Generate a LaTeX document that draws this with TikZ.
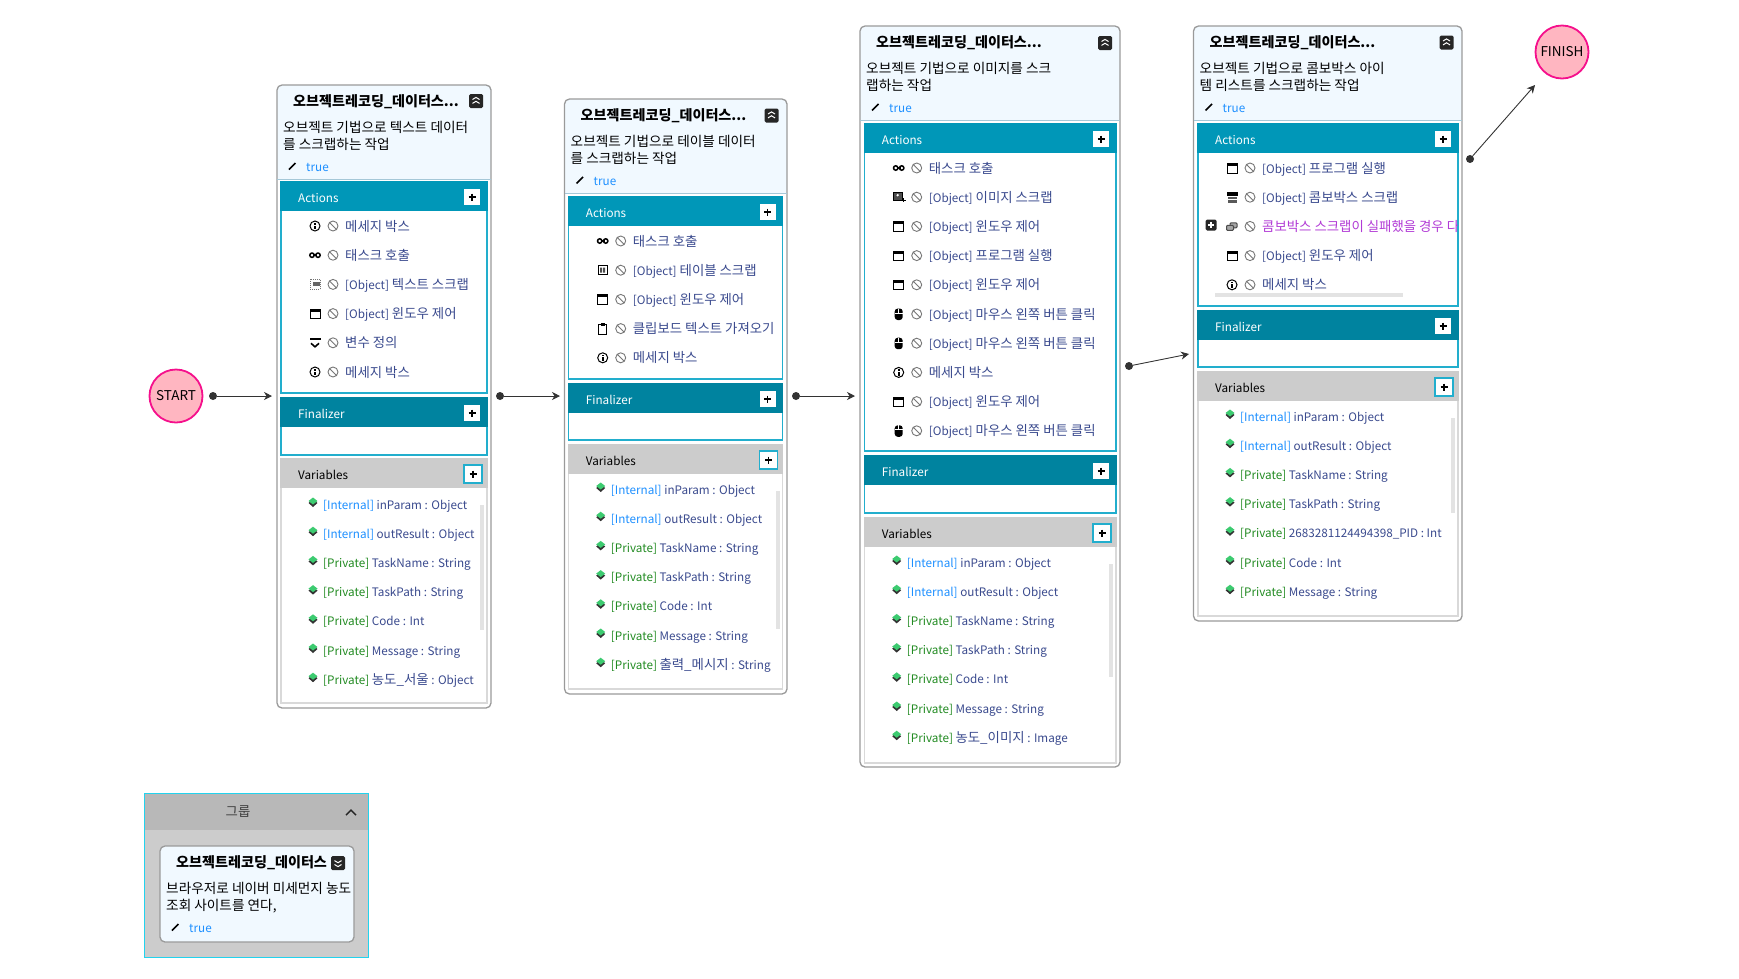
\documentclass[tikz,border=0pt]{standalone}
\usepackage{fontspec}
\setmainfont{Noto Sans CJK KR}
\usetikzlibrary{arrows.meta}
\definecolor{acthead}{HTML}{0097B8}
\definecolor{finhead}{HTML}{00839F}
\definecolor{panelline}{HTML}{22AECD}
\definecolor{varhead}{HTML}{CCCCCC}
\definecolor{cardline}{HTML}{9A9A9A}
\definecolor{cardfill}{HTML}{F1F9FF}
\definecolor{sepline}{HTML}{A5C8D8}
\definecolor{rowtext}{HTML}{3A4A8E}
\definecolor{colInternal}{HTML}{1E90FF}
\definecolor{colPrivate}{HTML}{228B22}
\definecolor{grptext}{HTML}{B23BD6}
\definecolor{banline}{HTML}{777777}
\definecolor{pinkfill}{HTML}{FFB6C1}
\definecolor{pinkline}{HTML}{F5108C}
\definecolor{grphead}{HTML}{B8B8B8}
\definecolor{grpline}{HTML}{22D3EE}
\definecolor{gemgreen}{HTML}{3CCB70}
\newcommand{\lat}[1]{{\fontsize{11.7}{16}\selectfont #1}}
\newcommand{\han}[1]{{\fontsize{13.4}{16}\selectfont #1}}
\newcommand{\obj}{\lat{[Object]}}
\tikzset{>={Stealth[length=8pt,width=8pt,inset=2.5pt]},
  x=1pt,y=-1pt,
  txt/.style={inner sep=0pt,anchor=base west,font=\fontsize{13.65}{16}\selectfont},
  rowtxt/.style={txt,text=rowtext,font=\fontsize{13.4}{16}\selectfont},
  titletxt/.style={txt,font=\fontsize{14.1}{16}\bfseries\selectfont},
  paneltxt/.style={txt,font=\fontsize{11.7}{16}\selectfont},
  stopnode/.style={circle,minimum size=53pt,inner sep=0pt,fill=pinkfill,draw=pinkline,line width=1.8pt,font=\fontsize{13.5}{16}\selectfont},
  dotnode/.style={circle,minimum size=8pt,inner sep=0pt,fill=black!80},
  link/.style={->,line width=.9pt,black!80}}
\newcommand{\icoinfo}{\draw[line width=1pt] (0,0) circle (5); \fill (-1,-3) rectangle (1,-1.5); \fill (-1,-.5) rectangle (1,3.2);}
\newcommand{\icolink}{\draw[line width=1.5pt] (-3,0) circle (2.2) (3,0) circle (2.2); \draw[line width=1.5pt] (-2,0) -- (2,0);}
\newcommand{\icotxt}{\draw[black!55,densely dotted,line width=1pt] (-5,-5) rectangle (5,5); \fill[black!60] (-2,-2) rectangle (5,2);}
\newcommand{\icowin}{\draw[line width=1pt] (-5,-4.5) rectangle (5,5); \fill (-5.5,-5) rectangle (5.5,-2);}
\newcommand{\icodef}{\fill (-5.5,-5) -- (5.5,-5) -- (5.5,-2.5) -- (-5.5,-2.5) -- cycle; \draw[line width=1.6pt] (-4,.5) -- (0,4) -- (4,.5);}
\newcommand{\icotbl}{\draw[line width=1pt] (-4.5,-4.5) rectangle (4.5,4.5); \fill[black!70] (-2.5,-2.5) rectangle (-.5,2.5) (.5,-2.5) rectangle (2.5,2.5);}
\newcommand{\icoclip}{\draw[line width=1pt] (-4,-4) rectangle (4,5.5); \fill (-2,-5.5) rectangle (2,-2.5);}
\newcommand{\icoimg}{\draw[line width=1pt,fill=black!70] (-5,-4.5) rectangle (3.5,3); \fill[white] (-1,-2) circle (1.3); \draw[line width=1pt] (5,1) -- (5,5) (3,3) -- (7,3);}
\newcommand{\icomouse}{\fill[rounded corners=3] (-4,-5.5) rectangle (4,6); \draw[white,line width=.7pt] (0,-5.5) -- (0,-1) (-4,-1) -- (4,-1);}
\newcommand{\icocombo}{\fill (-5.5,-5.5) rectangle (5.5,-1); \fill[black!65] (-4,0) rectangle (5,5.5); \draw[white,line width=.6pt] (-4,2.5) -- (5,2.5);}
\newcommand{\icogroup}{\draw[black!70,fill=black!35,line width=1pt,rounded corners=1] (-2,-3.5) rectangle (5,1.5); \draw[black!70,fill=black!35,line width=1pt,rounded corners=1] (-5.5,-1) rectangle (1.5,4);}
\newcommand{\banmark}[2]{\draw[banline,line width=.9pt] ({#1},{#2}) circle (5) ({#1-3.5},{#2-3.5}) -- ({#1+3.5},{#2+3.5});}
\newcommand{\gem}[2]{\fill[black!80] ({#1},{#2-2.5}) -- ({#1+4.5},{#2+1}) -- ({#1},{#2+5}) -- ({#1-4.5},{#2+1}) -- cycle; \fill[gemgreen] ({#1},{#2-4.5}) -- ({#1+4.5},{#2-1}) -- ({#1},{#2+2.5}) -- ({#1-4.5},{#2-1}) -- cycle;}
\newcommand{\pencilmark}[2]{\draw[line width=1.6pt] ({#1-3.5},{#2+3.5}) -- ({#1+3},{#2-3});}
\newcommand{\plusmark}[2]{\draw[line width=1.3pt] ({#1-3.5},{#2}) -- ({#1+3.5},{#2}) ({#1},{#2-3.5}) -- ({#1},{#2+3.5});}
\newcommand{\chevbtn}[3]{\fill[black!85,rounded corners=1.5] ({#1-7},{#2-7}) rectangle ({#1+7},{#2+7});
  \draw[white,line width=1pt] ({#1-3.5},{#2-#3}) -- ({#1},{#2-#3*2.4}) -- ({#1+3.5},{#2-#3}) ({#1-3.5},{#2+#3*1.6}) -- ({#1},{#2+#3*.2}) -- ({#1+3.5},{#2+#3*1.6});}
\newcommand{\cardframe}[5]{\fill[white,rounded corners=5] (#1,#3) rectangle (#2,#4);
  \begin{scope}\clip[rounded corners=5] (#1,#3) rectangle (#2,#4); \fill[cardfill] (#1,#3) rectangle (#2,{#3+#5}); \end{scope}
  \draw[cardline,line width=1.3pt,rounded corners=5] (#1,#3) rectangle (#2,#4);}
\newcommand{\cardhead}[7]{\node[titletxt] (#1-title) at ({#2+16},{#4+21.5}) {#5};
  \node[txt] (#1-l1) at ({#2+6},{#4+47}) {#6};
  \node[txt] (#1-l2) at ({#2+6},{#4+64}) {#7};
  \pencilmark{#2+15.5}{#4+81}
  \node[txt,text=colInternal] (#1-flag) at ({#2+29},{#4+86}) {\lat{true}};}
\newcommand{\panel}[7]{\draw[panelline,line width=1.2pt,fill=white] (#2,#4) rectangle (#3,#5);
  \fill[#7] ({#2-.6},{#4-.6}) rectangle ({#3+.6},{#4+29});
  \node[paneltxt,text=white] (#1-name) at ({#2+17},{#4+20}) {#6};
  \fill[white] ({#3-23},{#4+7}) rectangle ({#3-7},{#4+23});
  \plusmark{#3-15}{#4+15}}
\newcommand{\actrows}[4]{\foreach \ico/\lbl [count=\i] in {#4} {
    \begin{scope}[shift={({#2+34},{#3+(\i-1)*29.2})}]\csname ico\ico\endcsname\end{scope}
    \banmark{#2+52}{#3+(\i-1)*29.2}
    \node[rowtxt] (#1-r\i) at ({#2+64},{#3+5+(\i-1)*29.2}) {\lbl};}}
\newcommand{\varpanel}[6]{\draw[black!15,line width=1.2pt,fill=white] (#2,#4) rectangle (#3,#5);
  \fill[varhead] ({#2-.6},{#4-.6}) rectangle ({#3+.6},{#4+29});
  \node[paneltxt] (#1-name) at ({#2+17},{#4+20}) {Variables};
  \draw[panelline,line width=1.2pt,fill=white] ({#3-23},{#4+6}) rectangle ({#3-5},{#4+24});
  \plusmark{#3-14}{#4+15}
  \fill[black!11] ({#3-7},{#4+46}) rectangle ({#3-3},{#4+46+#6});}
\newcommand{\varrows}[4]{\foreach \kind/\lbl [count=\i] in {#4} {
    \gem{#2+32}{#3-2+(\i-1)*29.2}
    \node[rowtxt] (#1-v\i) at ({#2+42},{#3+5+(\i-1)*29.2}) {\lat{\textcolor{col\kind}{[\kind]} \lbl}};}}
\begin{document}
\begin{tikzpicture}
\useasboundingbox (0,0) rectangle (1739,978);
\node[stopnode] (start) at (176,396) {START};
\node[stopnode] (finish) at (1562,52) {FINISH};

\cardframe{277}{491}{85}{708}{94}
\cardhead{c1}{277}{491}{85}{오브젝트레코딩\_데이터스...}{오브젝트 기법으로 텍스트 데이터}{를 스크랩하는 작업}
\chevbtn{476}{101}{1.5}
\draw[sepline] (277,179) -- (491,179);
\panel{c1a}{281}{487}{182}{393}{Actions}{acthead}
\actrows{c1a}{281}{226}{info/메세지 박스,link/태스크 호출,txt/\obj{} 텍스트 스크랩,win/\obj{} 윈도우 제어,def/변수 정의,info/메세지 박스}
\panel{c1f}{281}{487}{398}{455}{Finalizer}{finhead}
\varpanel{c1v}{281}{487}{459}{703}{125}
\varrows{c1v}{281}{504}{Internal/inParam : Object,Internal/outResult : Object,Private/TaskName : String,Private/TaskPath : String,Private/Code : Int,Private/Message : String,Private/\han{농도\_서울} : Object}

\cardframe{564.5}{787}{99}{694}{94}
\cardhead{c2}{564.5}{787}{99}{오브젝트레코딩\_데이터스...}{오브젝트 기법으로 테이블 데이터}{를 스크랩하는 작업}
\chevbtn{771.5}{115.5}{1.5}
\draw[sepline] (564.5,193) -- (787,193);
\panel{c2a}{568.7}{782.7}{197}{379}{Actions}{acthead}
\actrows{c2a}{568.7}{241}{link/태스크 호출,tbl/\obj{} 테이블 스크랩,win/\obj{} 윈도우 제어,clip/클립보드 텍스트 가져오기,info/메세지 박스}
\panel{c2f}{568.7}{782.7}{384}{440}{Finalizer}{finhead}
\varpanel{c2v}{568.7}{782.7}{445}{689}{138}
\varrows{c2v}{568.7}{489}{Internal/inParam : Object,Internal/outResult : Object,Private/TaskName : String,Private/TaskPath : String,Private/Code : Int,Private/Message : String,Private/\han{출력\_메시지} : String}

\cardframe{860}{1120}{26}{767}{94}
\cardhead{c3}{860}{1120}{26}{오브젝트레코딩\_데이터스...}{오브젝트 기법으로 이미지를 스크}{랩하는 작업}
\chevbtn{1105}{43}{1.5}
\draw[sepline] (860,120) -- (1120,120);
\panel{c3a}{864.7}{1116}{124}{451}{Actions}{acthead}
\actrows{c3a}{864.7}{168}{link/태스크 호출,img/\obj{} 이미지 스크랩,win/\obj{} 윈도우 제어,win/\obj{} 프로그램 실행,win/\obj{} 윈도우 제어,mouse/\obj{} 마우스 왼쪽 버튼 클릭,mouse/\obj{} 마우스 왼쪽 버튼 클릭,info/메세지 박스,win/\obj{} 윈도우 제어,mouse/\obj{} 마우스 왼쪽 버튼 클릭}
\panel{c3f}{864.7}{1116}{456}{513}{Finalizer}{finhead}
\varpanel{c3v}{864.7}{1116}{518}{763}{113}
\varrows{c3v}{864.7}{562}{Internal/inParam : Object,Internal/outResult : Object,Private/TaskName : String,Private/TaskPath : String,Private/Code : Int,Private/Message : String,Private/\han{농도\_이미지} : Image}

\cardframe{1193.5}{1462}{26}{621}{94}
\cardhead{c4}{1193.5}{1462}{26}{오브젝트레코딩\_데이터스...}{오브젝트 기법으로 콤보박스 아이}{템 리스트를 스크랩하는 작업}
\chevbtn{1446.5}{42.5}{1.5}
\draw[sepline] (1193.5,120) -- (1462,120);
\panel{c4a}{1198}{1458}{124}{306}{Actions}{acthead}
\begin{scope}
\clip (1198,130) rectangle (1457,305);
\actrows{c4a}{1198}{168}{win/\obj{} 프로그램 실행,combo/\obj{} 콤보박스 스크랩,group/\textcolor{grptext}{콤보박스 스크랩이 실패했을 경우 다음},win/\obj{} 윈도우 제어,info/메세지 박스}
\end{scope}
\fill[black!85,rounded corners=1.5] (1205.5,219.5) rectangle (1216.5,230.5);
\draw[white,line width=1.1pt] (1208,225) -- (1214,225) (1211,222) -- (1211,228);
\fill[black!11] (1215,293) rectangle (1403,297);
\panel{c4f}{1198}{1458}{311}{367}{Finalizer}{finhead}
\varpanel{c4v}{1198}{1458}{372}{616}{95}
\varrows{c4v}{1198}{416}{Internal/inParam : Object,Internal/outResult : Object,Private/TaskName : String,Private/TaskPath : String,Private/2683281124494398\_PID : Int,Private/Code : Int,Private/Message : String}

\node[dotnode] (d0) at (213,396) {};
\node[dotnode] (d1) at (500,396) {};
\node[dotnode] (d2) at (796,396) {};
\node[dotnode] (d3) at (1129,366) {};
\node[dotnode] (d4) at (1470,159) {};
\coordinate (t0) at (272,396);
\coordinate (t1) at (560,396);
\coordinate (t2) at (855,396);
\coordinate (t3) at (1189,354);
\coordinate (t4) at (1535,85);
\foreach \i in {0,...,4} \draw[link] (d\i) -- (t\i);

\draw[grpline,fill=varhead,line width=1pt] (144.7,793) rectangle (368.7,957);
\fill[grphead] (145.2,793.5) rectangle (368.2,830);
\node[font=\fontsize{13.4}{16}\selectfont,text=black!75,inner sep=0pt] (grp) at (238,812) {그룹};
\draw[line width=1.4pt,black!85] (346,815) -- (351,810) -- (356,815);
\cardframe{160}{354}{846}{942}{96}
\cardhead{c0}{160}{354}{846}{오브젝트레코딩\_데이터스}{브라우저로 네이버 미세먼지 농도}{조회 사이트를 연다,}
\chevbtn{338}{863}{-1.5}
\end{tikzpicture}
\end{document}
